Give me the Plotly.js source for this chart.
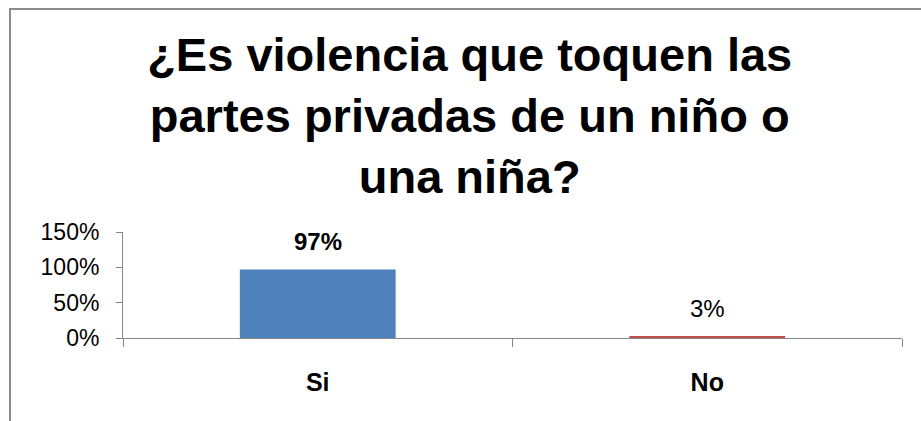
<!DOCTYPE html>
<html>
<head>
<meta charset="utf-8">
<script src="https://cdn.plot.ly/plotly-3.0.1.min.js"></script>
<style>
  html, body { margin: 0; padding: 0; background: #fff; }
  #wrap { position: relative; width: 921px; height: 421px; overflow: hidden; }
  #chart { width: 921px; height: 421px; }
  #frame { position: absolute; left: 9px; top: 8px; width: 930px; height: 430px; z-index: 10;
           border-left: 2px solid #8c8c8c; border-top: 2px solid #8c8c8c; pointer-events: none; }
</style>
</head>
<body>
<div id="wrap">
  <div id="chart"></div>
  <div id="frame"></div>
</div>
<script>
const titleText = "¿Es violencia que toquen las<br>partes privadas de un niño o<br>una niña?";
const categories = ["Si", "No"];
const values = [97, 3];
const barColors = ["#4F81BD", "#C0504D"];
const labelWeights = ["bold", "normal"];
const tickVals = [0, 50, 100, 150];
const tickText = ["0%", "50%", "100%", "150%"];

const font = "Liberation Sans, Arial, sans-serif";

const trace = {
  type: "bar",
  x: categories,
  y: values,
  marker: { color: barColors },
  hoverinfo: "skip"
};

const annotations = categories.map((c, i) => ({
  x: c, y: values[i], xref: "x", yref: "y",
  text: values[i] + "%",
  showarrow: false,
  yanchor: "bottom",
  yshift: 12,
  font: { family: font, size: 24, color: "#000", weight: labelWeights[i] }
}));

const layout = {
  width: 921,
  height: 421,
  margin: { l: 123, r: 19, t: 232, b: 83 },
  paper_bgcolor: "rgba(0,0,0,0)",
  plot_bgcolor: "rgba(0,0,0,0)",
  showlegend: false,
  bargap: 0.6,
  annotations: annotations,
  title: {
    text: titleText,
    font: { family: font, size: 47, color: "#000", weight: "bold" },
    x: 0.51, xanchor: "center",
    xref: "container",
    y: 0.832, yanchor: "top", yref: "container"
  },
  xaxis: {
    type: "category",
    showline: true, linecolor: "#868686", linewidth: 1,
    ticks: "outside", tickson: "boundaries", ticklen: 8, tickcolor: "#868686",
    tickfont: { family: font, size: 25, color: "#000", weight: "bold" },
    showgrid: false, zeroline: false,
    ticklabelstandoff: 22
  },
  yaxis: {
    range: [0, 150],
    tickvals: tickVals,
    ticktext: tickText,
    showline: true, linecolor: "#868686", linewidth: 1,
    ticks: "outside", ticklen: 6, tickcolor: "#868686",
    tickfont: { family: font, size: 23, color: "#000" },
    showgrid: false, zeroline: false,
    ticklabelstandoff: 12
  }
};

Plotly.newPlot("chart", [trace], layout, { displayModeBar: false, staticPlot: true });
</script>
</body>
</html>
